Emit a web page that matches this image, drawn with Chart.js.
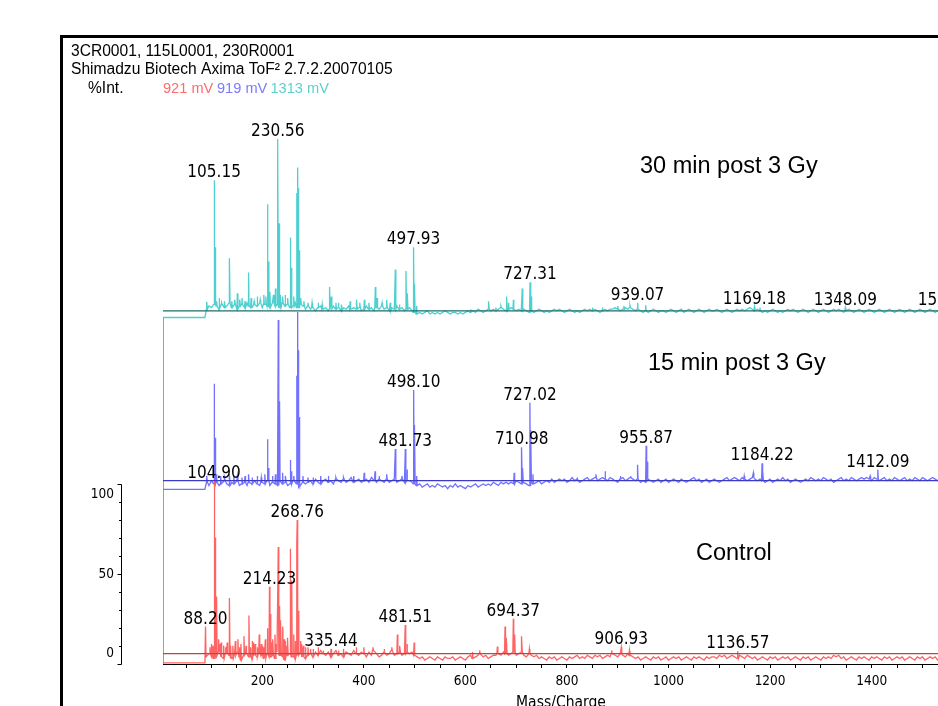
<!DOCTYPE html>
<html>
<head>
<meta charset="utf-8">
<script src="https://cdn.jsdelivr.net/npm/chart.js@4.4.1/dist/chart.umd.min.js"></script>
<style>
html, body { margin: 0; padding: 0; width: 938px; height: 706px; overflow: hidden; background: #fff; }
canvas { position: absolute; left: 0; top: 0; }
#frame { position: absolute; left: 60px; top: 35px; width: 1000px; height: 800px; border-left: 3px solid #000; border-top: 3px solid #000; }
</style>
</head>
<body>
<canvas id="spec" width="1000" height="720"></canvas>
<div id="frame"></div>
<script>
// axis ranges (y in % of the control trace)
const X_MIN = 4.5, X_MAX = 1572;
const Y_MIN = -6.5, Y_MAX = 348;

// noise samples: m/z 90, 95, ... 1570
const NOISE_START = 90, NOISE_STEP = 5;
const LEAD_END = 87;

// stacking offsets and flat lead-in level of each trace
const OFFSET_CONTROL = 0, OFFSET_15 = 108.7, OFFSET_30 = 215.5;
const LEAD_CONTROL = -5.8, LEAD_15 = -5.5, LEAD_30 = -4.2;

const HEADER = ['3CR0001, 115L0001, 230R0001', 'Shimadzu Biotech Axima ToF\u00b2 2.7.2.20070105', '%Int.'];
const VOLTAGES = ['921 mV', '919 mV', '1313 mV'];
const TITLES = ['30 min post 3 Gy', '15 min post 3 Gy', 'Control'];

const Y_LABELS = [0, 50, 100];
const Y_TICKS = [-6.5, 4.8, 16.1, 27.4, 38.7, 50, 61.3, 72.6, 83.9, 95.2, 106.5];

// ---- Control (red) ----
const controlNoise = [
  -2, 0, -1, -3, -1, 1, -2, -3, 0, -1, -3, -1, 1, -2, -4, -1, 0, -2, -3, -1,
  -2, 1, -1, -3, 0, -2, -1, -3, 1, -1, -2, -4, -1, 0, -2, -3, -1, 1, -2, -3,
  -1, 0, -2, 1, -1, 2, 0, -1, 1, -2, 0, 2, -1, 0, -2, 1, 0, -1, 2, 0,
  -1, 1, 0, -2, 1, -1, 2, 0, -2, -1, 1, -1, 0, 2, -1, 0, 1, -1, 0, 1,
  0, 1, -1, -2, -3, -2, -4, -3, -2, -3, -4, -2, -3, -4, -2, -3, -3, -2, -4, -3,
  -2, -3, -4, -2, -1, -3, -2, -1, 0, -2, -1, -3, -2, -1, -1, 0, -1, 1, 0, -1,
  0, 1, -1, 0, 1, -1, -2, 0, -1, -2, -1, -3, -2, -3, -4, -2, -3, -2, -4, -3,
  -2, -3, -4, -2, -3, -2, -1, -3, -2, -3, -1, -2, -3, -1, -2, -1, -3, -2, -1, -2,
  0, -1, -2, 0, -1, -2, 0, -1, -2, -3, -2, -4, -3, -2, -3, -4, -2, -3, -2, -4,
  -3, -2, -4, -3, -2, -3, -2, -4, -3, -2, -3, -4, -2, -3, -2, -3, -4, -2, -3, -2,
  -2, -3, -1, -2, -1, -3, -2, -1, -2, -3, -1, -2, -3, -1, -2, -3, -2, -4, -3, -2,
  -3, -4, -2, -3, -2, -4, -3, -2, -3, -2, -4, -3, -2, -3, -4, -2, -3, -2, -4, -3,
  -2, -3, -4, -2, -3, -2, -3, -1, -2, -1, -3, -2, -4, -3, -2, -3, -4, -2, -3, -2,
  -3, -4, -2, -3, -2, -3, -4, -2, -3, -2, -4, -3, -2, -3, -2, -4, -3, -2, -3, -4,
  -2, -3, -2, -4, -3, -2, -3, -2, -4, -3, -2, -3, -2, -3, -4, -2, -3
];
const controlPeaks = [
  [88.2, 17], [97, 4], [100, 6], [103, 5], [105.5, 108], [107, 73], [110, 36], [114, 9], [117, 6],
  [119, 7], [124, 5], [128, 4], [131, 7], [135.5, 35], [138, 5], [142, 5], [147, 8], [152, 9],
  [155, 4], [158, 6], [164, 11], [168, 5], [173.7, 24], [177, 4], [180, 8], [183, 7], [186, 6],
  [190, 4], [194, 12], [198, 6], [200, 5], [203, 4], [206, 9], [210, 16], [214.2, 42], [216.5, 25],
  [218, 7], [221, 9], [225, 12], [228, 6], [231.5, 67], [234, 30], [236.7, 21], [240.6, 17],
  [243, 9], [245, 8], [248, 5], [250, 10], [255, 66], [258, 46], [262, 12], [265, 8], [268, 68],
  [268.8, 84], [271, 27], [276, 8], [278, 6], [281, 5], [285, 4], [290, 4], [295, 3], [300, 3],
  [310, 4], [320, 2], [335.4, 3], [350, 2], [360, 3], [385, 4], [400, 4], [418, 4], [440, 3],
  [455, 4], [466, 12], [471, 5], [481.5, 18], [485, 6], [499, 7], [614, 1], [628, 2],
  [663, 4.4], [678, 17], [681, 10], [694.4, 22], [697, 12], [711, 11], [726, 3],
  [888, 2], [906.9, 4], [923, 2], [1136.6, 1.5]
];
const controlLabels = [
  [88.2, '88.20', 17], [214.23, '214.23', 42], [268.76, '268.76', 84], [335.44, '335.44', 3],
  [481.51, '481.51', 18], [694.37, '694.37', 22], [906.93, '906.93', 4], [1136.57, '1136.57', 1.5]
];

// ---- 15 min post 3 Gy (blue) ----
const min15Noise = [
  -1, -3, 0, -2, -1, -3, -2, 0, -2, -3, -1, -2, 0, -3, -2, -1, -3, -1, -2, 0,
  -2, -3, -1, -2, 0, -3, -1, -2, -3, 0, -2, -1, -3, -2, 0, -1, -2, -3, -1, -2,
  -1, 0, -2, 1, -1, -2, 0, 1, -1, 0, -2, 1, 0, -1, 1, -1, 0, 2, -1, 0,
  1, -1, 0, 1, -1, 2, 0, -1, 1, 0, -1, 1, -1, 0, 1, -1, 0, 1, -1, 0,
  0, -1, -2, -3, -2, -4, -3, -2, -4, -3, -4, -2, -3, -4, -3, -5, -3, -4, -2, -4,
  -3, -4, -5, -3, -4, -3, -2, -4, -3, -2, -3, -2, -3, -1, -2, -3, -1, -2, -1, -2,
  -1, -2, 0, -1, -2, -1, -2, -3, -1, -2, -1, 0, -2, -1, 0, -1, 1, -1, 0, 1,
  0, 1, -1, 0, 2, 0, 1, -1, 0, 1, 2, 0, 1, 2, 0, 1, 2, 1, 0, 2,
  1, 0, -1, 1, 2, 0, 1, 2, 1, 0, 1, -1, 0, -1, 1, 0, -1, 0, 1, -1,
  0, 1, -1, 0, 1, 0, -1, 1, 0, -1, 0, 1, 2, 0, 1, -1, 0, 1, -1, 0,
  1, 0, -1, 0, 1, 2, 0, 1, 2, 1, 0, 2, 1, 0, 1, 2, 1, 0, 1, 0,
  -1, 0, 1, -1, 0, 1, 0, 2, 0, 1, -1, 0, 1, 0, -1, 0, 1, 0, 2, 1,
  0, 1, 0, 2, 1, 0, 1, -1, 0, 1, 2, 0, 1, 0, 2, 1, 0, 1, 2, 1,
  2, 1, 0, 2, 1, 0, 1, 2, 0, 1, 0, 2, 1, 0, 1, 2, 0, 1, 0, 2,
  1, 0, 2, 1, 0, 1, 2, 1, 0, 2, 1, 0, 1, 0, 2, 1, 0
];
const min15Peaks = [
  [91, 3], [105, 61], [107, 27], [110, 4], [118, 3], [126, 2], [135.5, 4], [144, 3], [151, 3],
  [160, 2], [166, 3], [173, 4], [180, 2], [190, 3], [198, 2], [205, 4], [210, 26], [212, 8],
  [220, 3], [226, 4], [231.5, 101], [234, 50], [240, 5], [246, 3], [255, 13], [257, 6], [262, 3],
  [268, 66], [270, 106], [271.5, 82], [273, 40], [280, 3], [290, 2], [300, 2], [315, 3], [330, 3],
  [345, 2], [360, 2], [380, 3], [400.6, 5], [422, 6], [430, 3], [445, 4], [462, 20], [475, 3],
  [481.7, 20], [485, 7], [498.1, 57], [500, 35], [504, 3], [696, 5], [711, 21], [713, 8],
  [727, 49], [729, 32], [733, 4], [820, 2], [857, 4], [875, 6], [905, 3], [925, 3], [939, 10],
  [955.9, 22], [958, 12], [1149, 3], [1167, 5], [1184.2, 11], [1186, 6], [1397, 3], [1412.1, 7],
  [1560, 2]
];
const min15Labels = [
  [104.9, '104.90', 0], [481.73, '481.73', 20], [498.1, '498.10', 57], [710.98, '710.98', 21],
  [727.02, '727.02', 49], [955.87, '955.87', 22], [1184.22, '1184.22', 11], [1412.09, '1412.09', 7]
];

// ---- 30 min post 3 Gy (cyan) ----
const min30Noise = [
  1, 3, 2, 4, 3, 1, 4, 2, 3, 5, 2, 4, 1, 3, 4, 2, 5, 3, 2, 4,
  3, 5, 2, 4, 3, 2, 5, 3, 4, 2, 5, 3, 4, 2, 3, 5, 2, 4, 3, 1,
  3, 1, 2, 0, 2, 3, 1, 2, 0, 1, 3, 1, 2, 0, 2, 1, 3, 1, 2, 1,
  2, 0, 1, 3, 1, 2, 0, 2, 1, 3, 1, 2, 0, 2, 1, 3, 1, 2, 0, 1,
  2, 0, -1, -2, -1, -2, -1, 0, -2, -1, -2, -1, -2, -1, 0, -1, -2, -1, -1, -2,
  -1, -2, -1, 0, -1, 0, -1, 1, 0, -1, 0, 1, 0, 1, 0, 1, 2, 1, 0, 1,
  2, 1, 0, 1, 0, 1, 0, -1, 0, -1, 0, 1, 0, -1, 0, -1, 0, 1, 0, 1,
  0, -1, 0, 1, 0, -1, 0, -1, 0, 1, 0, 1, 0, 1, 0, -1, 0, 1, 0, 1,
  1, 2, 1, 0, 1, 2, 1, 2, 1, 0, 1, 0, -1, 0, -1, 0, 1, 0, -1, 0,
  0, -1, 0, 1, 0, -1, 0, 1, -1, 0, 1, 0, -1, 0, 1, 0, -1, 0, 1, 0,
  0, 1, 0, -1, 0, 1, 0, -1, 0, 1, 0, 1, 0, 1, 2, 1, 0, 1, 0, -1,
  0, -1, 0, 1, 0, -1, 0, -1, 0, 1, 0, 1, 0, -1, 0, 1, 0, -1, 0, 1,
  0, -1, 0, 1, 0, -1, 0, 1, 0, 1, 0, -1, 0, 1, 0, -1, 0, 1, 0, -1,
  0, 1, 0, -1, 0, 1, 0, -1, 0, 1, 0, -1, 0, 1, 0, -1, 0, 1, 0, -1,
  0, 1, 0, -1, 0, 1, 0, -1, 0, 1, 0, 1, 0, -1, 0, 1, 0
];
const min30Peaks = [
  [91, 5.7], [105.2, 82], [107, 40], [110, 6], [115, 8], [120, 5], [126, 6], [135.5, 33], [140, 6],
  [146, 7], [151, 11], [156, 7], [160, 8], [166, 6], [173, 24], [178, 8], [184, 6], [190, 9],
  [196, 7], [203, 10], [207, 9], [210, 67], [212, 31], [215, 12], [222, 10], [226, 14],
  [230.6, 108], [233, 55], [236, 10], [240, 9], [245, 10], [250, 8], [255, 46], [257, 27],
  [262, 9], [268, 74], [270, 90], [271.5, 77], [273, 38], [276, 8], [282, 6], [290, 5], [298, 5],
  [310, 5], [318, 4], [332.5, 15], [336, 9], [345, 5], [350, 5], [356, 4], [373, 6], [386, 7],
  [392, 5], [401, 7], [410, 5], [422.6, 15], [426, 8], [436, 5], [445, 7], [452, 5], [462, 26],
  [470, 4], [483, 25], [486, 11], [497.9, 40], [500, 17], [504, 3], [610, 1], [646, 6], [660, 2],
  [670, 3], [681.6, 9], [685, 5], [694.6, 7], [712, 14], [727.3, 18], [730, 9], [850, 2],
  [870, 2], [900, 3], [912, 3], [924, 3.5], [939.1, 5], [955, 3.5], [1169.2, 2.5], [1180, 2],
  [1348.1, 2], [1553, 2]
];
const min30Labels = [
  [105.15, '105.15', 82], [230.56, '230.56', 108], [497.93, '497.93', 40], [727.31, '727.31', 18],
  [939.07, '939.07', 5], [1169.18, '1169.18', 2.5], [1348.09, '1348.09', 2], [1553, '1553.07', 2]
];

const NUM_FONT = '"DejaVu Sans Condensed", "DejaVu Sans", sans-serif';
const TXT_FONT = '"Liberation Sans", Arial, sans-serif';

// turns noise samples + peak list into a sorted point list
function buildTrace(lead, noise, peaks, offset) {
  const pts = [{ x: X_MIN, y: lead + offset }, { x: LEAD_END, y: lead + offset }];
  noise.forEach((v, i) => pts.push({ x: NOISE_START + i * NOISE_STEP, y: v + offset }));
  peaks.forEach(([m, h]) => {
    const idx = Math.max(0, Math.min(noise.length - 1, Math.round((m - NOISE_START) / NOISE_STEP)));
    const nb = noise[idx] + offset;
    pts.push({ x: m - 1, y: nb }, { x: m, y: h + offset }, { x: m + 1, y: nb });
  });
  pts.sort((a, b) => a.x - b.x);
  return pts;
}

function flat(level, color) {
  return { data: [{ x: X_MIN, y: level }, { x: X_MAX, y: level }], borderColor: color, borderWidth: 1.2 };
}

const datasets = [
  flat(OFFSET_30, '#1f6d6d'),
  flat(OFFSET_15, '#3b3bc8'),
  flat(OFFSET_CONTROL, '#b84848'),
  { data: buildTrace(LEAD_CONTROL, controlNoise, controlPeaks, OFFSET_CONTROL), borderColor: '#ff6464', borderWidth: 1.3 },
  { data: buildTrace(LEAD_15, min15Noise, min15Peaks, OFFSET_15), borderColor: '#7272ff', borderWidth: 1.3 },
  { data: buildTrace(LEAD_30, min30Noise, min30Peaks, OFFSET_30), borderColor: '#4fd0d0', borderWidth: 1.3 },
  { data: [{ x: X_MIN, y: OFFSET_30 + LEAD_30 }, { x: X_MIN, y: Y_MIN }], borderColor: '#808080', borderWidth: 1.5 }
];

const decor = {
  id: 'decor',
  afterDraw(chart) {
    const { ctx, scales: { x, y } } = chart;
    ctx.save();
    ctx.fillStyle = '#000';
    ctx.textBaseline = 'alphabetic';
    ctx.textAlign = 'left';

    // header
    ctx.font = '15.6px ' + TXT_FONT;
    ctx.fillText(HEADER[0], 71, 55.5);
    ctx.fillText(HEADER[1], 71, 74.3);
    ctx.fillText(HEADER[2], 88, 92.8);
    const vColors = ['#ff6b6b', '#7b7bff', '#5ccfcf'];
    const vX = [163, 217, 270.5];
    ctx.font = '14.6px ' + TXT_FONT;
    VOLTAGES.forEach((t, i) => { ctx.fillStyle = vColors[i]; ctx.fillText(t, vX[i], 92.8); });

    // trace titles
    ctx.fillStyle = '#000';
    ctx.font = '23.5px ' + TXT_FONT;
    ctx.fillText(TITLES[0], 640, 173);
    ctx.fillText(TITLES[1], 648, 369.5);
    ctx.fillText(TITLES[2], 696, 559.5);

    // %Int. axis
    const ax = 121.5;
    ctx.strokeStyle = '#000';
    ctx.lineWidth = 1;
    ctx.beginPath();
    ctx.moveTo(ax, Math.round(y.getPixelForValue(Y_TICKS[Y_TICKS.length - 1])) + 0.5);
    ctx.lineTo(ax, Math.round(y.getPixelForValue(Y_TICKS[0])) + 0.5);
    Y_TICKS.forEach((v, i) => {
      const py = Math.round(y.getPixelForValue(v)) + 0.5;
      const len = (i % 5 === 0) ? 4 : 2.5;
      ctx.moveTo(ax, py);
      ctx.lineTo(ax - len, py);
    });
    ctx.stroke();
    ctx.font = '13.5px ' + NUM_FONT;
    ctx.textAlign = 'right';
    ctx.textBaseline = 'middle';
    Y_LABELS.forEach(v => ctx.fillText(String(v), 114, y.getPixelForValue(v)));

    // peak labels
    ctx.font = '17px ' + NUM_FONT;
    ctx.textAlign = 'center';
    ctx.textBaseline = 'alphabetic';
    [[min30Labels, OFFSET_30], [min15Labels, OFFSET_15], [controlLabels, OFFSET_CONTROL]].forEach(([list, off]) => {
      list.forEach(([m, txt, h]) => ctx.fillText(txt, x.getPixelForValue(m), y.getPixelForValue(h + off) - 3));
    });
    ctx.restore();
  }
};

new Chart(document.getElementById('spec'), {
  type: 'line',
  data: { datasets },
  options: {
    responsive: false,
    animation: false,
    devicePixelRatio: 1,
    layout: { padding: { left: 163, right: 41, top: 100, bottom: 0 } },
    plugins: { legend: { display: false }, tooltip: { enabled: false } },
    elements: { point: { radius: 0 }, line: { tension: 0 } },
    scales: {
      x: {
        type: 'linear',
        min: X_MIN,
        max: X_MAX,
        afterFit: s => { s.height = 56; },
        border: { display: true, color: '#000', width: 1 },
        grid: { drawOnChartArea: false, drawTicks: true, tickLength: 4, color: '#000' },
        ticks: {
          stepSize: 50,
          includeBounds: false,
          autoSkip: false,
          maxRotation: 0,
          padding: 5,
          color: '#000',
          font: { family: NUM_FONT, size: 13.5 },
          callback: v => (v % 200 === 0 ? String(v) : '')
        },
        title: { display: true, text: 'Mass/Charge', color: '#000', font: { family: NUM_FONT, size: 15.5 }, padding: { top: 0, bottom: 8 } }
      },
      y: { type: 'linear', min: Y_MIN, max: Y_MAX, display: false }
    }
  },
  plugins: [decor]
});
</script>
</body>
</html>
